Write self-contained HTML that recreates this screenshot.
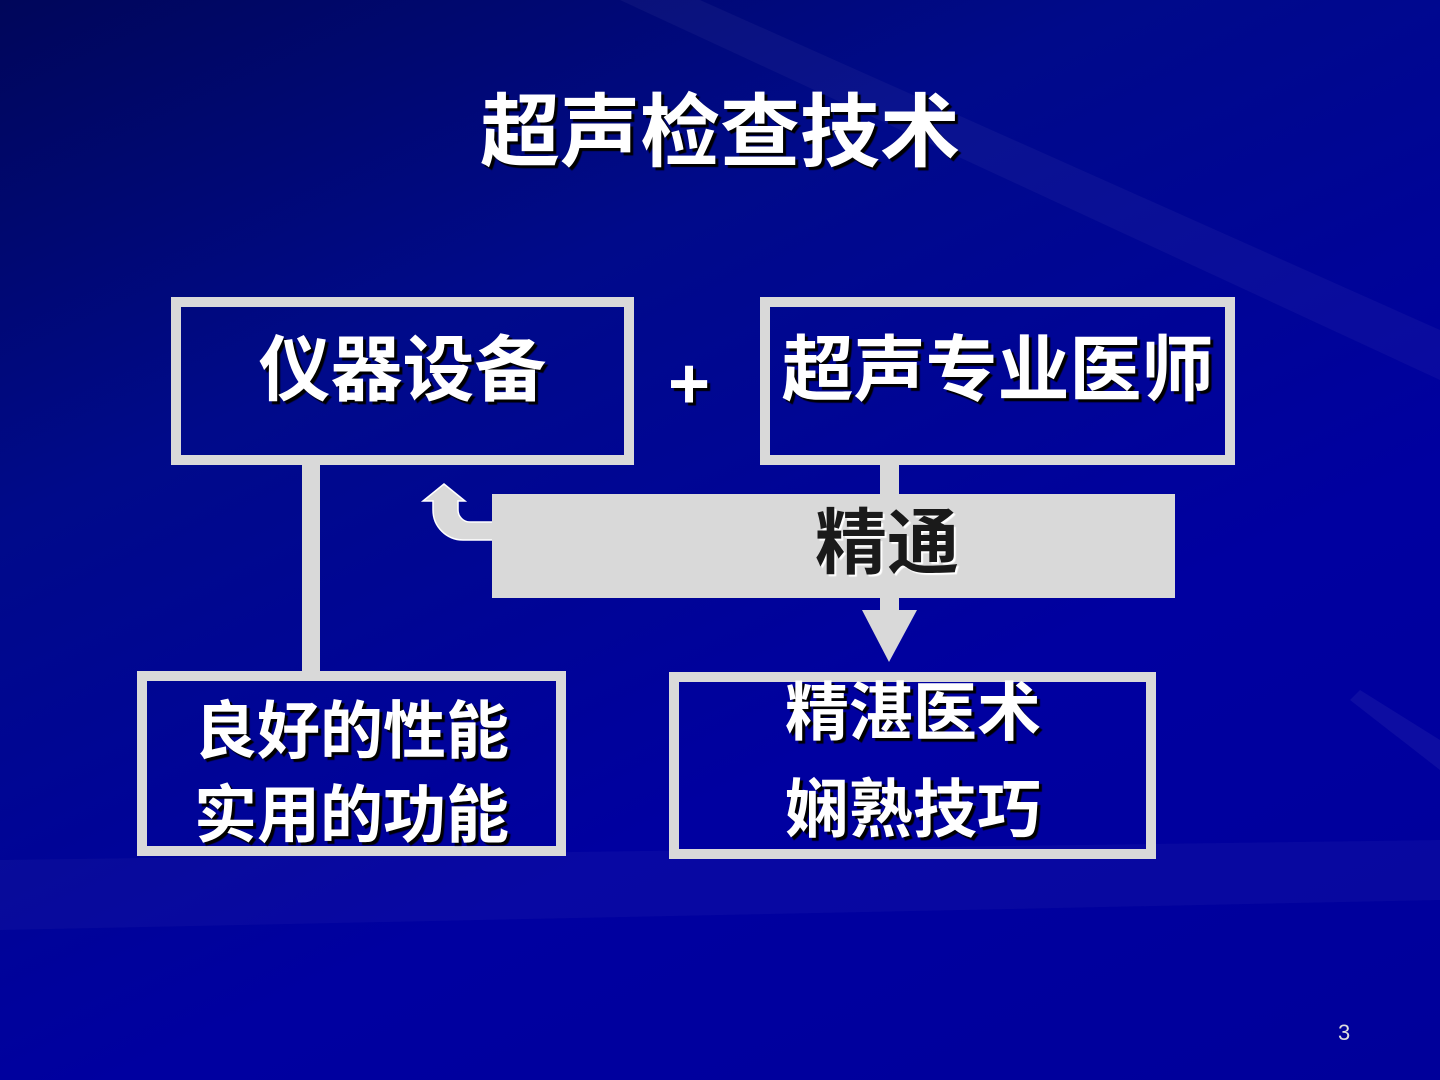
<!DOCTYPE html>
<html><head><meta charset="utf-8"><style>
body{margin:0}
#s{position:relative;width:1440px;height:1080px;overflow:hidden;background:linear-gradient(155deg,#00065a 0%,#000a8a 30%,#0000a0 65%,#00009a 100%);font-family:"Liberation Sans","Noto Sans CJK SC",sans-serif;font-weight:bold;color:#fff}
.t{position:absolute;text-shadow:3px 3px 1px #000;white-space:nowrap;line-height:1}
.b{position:absolute;border:10px solid #d9d9d9;box-sizing:border-box}
</style></head><body><div id="s">
<svg width="1440" height="1080" style="position:absolute;left:0;top:0">
<polygon points="700,0 1440,330 1440,380 620,0" fill="#fff" fill-opacity="0.04"/>
<polygon points="0,860 1440,840 1440,900 0,930" fill="#fff" fill-opacity="0.03"/>
<polygon points="1360,690 1440,740 1440,770 1350,700" fill="#fff" fill-opacity="0.05"/>
<rect x="302" y="462" width="18" height="212" fill="#d9d9d9"/>
<rect x="880" y="462" width="19" height="150" fill="#d9d9d9"/>
<polygon points="862,610 917,610 889,662" fill="#d9d9d9"/>
<path d="M444,484 L465,501 L458,501 L458,510 A12,12 0 0 0 470,522 L494,522 L494,540 L463,540 A30,30 0 0 1 433,510 L433,501 L423,501 Z" fill="#d9d9d9" stroke="#fff" stroke-width="1.5"/>
<rect x="492" y="494" width="683" height="104" fill="#d9d9d9"/>
</svg>
<div class="t" style="left:0;width:1440px;top:93px;text-align:center;font-size:80px">超声检查技术</div>
<div class="b" style="left:171px;top:297px;width:463px;height:168px"></div>
<div class="t" style="left:171px;width:463px;top:335px;text-align:center;font-size:72px">仪器设备</div>
<div class="t" style="left:668px;top:348px;font-size:72px">+</div>
<div class="b" style="left:760px;top:297px;width:475px;height:168px"></div>
<div class="t" style="left:760px;width:475px;top:335px;text-align:center;font-size:72px">超声专业医师</div>
<div class="t" style="left:815px;top:508px;font-size:72px;color:#1a1a1a;text-shadow:2px 2px 1px #fff">精通</div>
<div class="b" style="left:137px;top:671px;width:429px;height:185px"></div>
<div class="t" style="left:137px;width:429px;top:690px;text-align:center;font-size:63px;line-height:84px">良好的性能<br>实用的功能</div>
<div class="b" style="left:669px;top:672px;width:487px;height:187px"></div>
<div class="t" style="left:785px;top:665px;font-size:64px;line-height:97px">精湛医术<br>娴熟技巧</div>
<div style="position:absolute;left:1338px;top:1020px;font-size:22px;font-weight:normal;color:#ddd">3</div>
</div></body></html>
